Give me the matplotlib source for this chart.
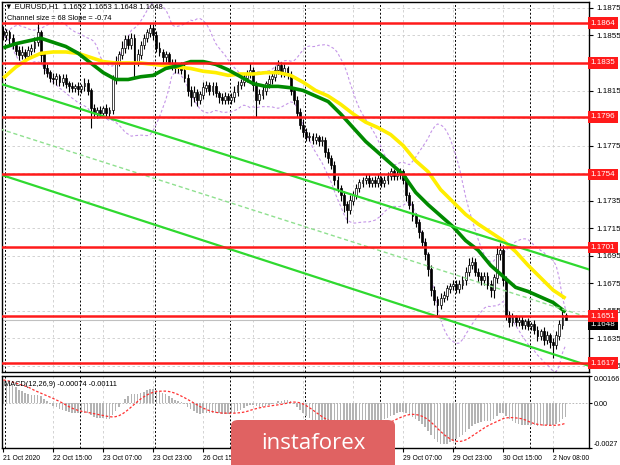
import numpy as np
import pandas as pd
import matplotlib
matplotlib.use("Agg")
import matplotlib.pyplot as plt
from matplotlib.patches import FancyBboxPatch
import matplotlib.transforms as mtransforms

plt.rcParams["font.family"] = ["Liberation Sans", "DejaVu Sans"]

# EURUSD H1 closes, one per bar
closes = [
    1.1855, 1.1857, 1.1853, 1.1848, 1.1844, 1.1841, 1.1843, 1.1840, 1.1844, 1.1846,
    1.1850, 1.1857, 1.1841, 1.1831, 1.1828, 1.1824, 1.1823, 1.1825, 1.1821, 1.1824,
    1.1820, 1.1818, 1.1817, 1.1818, 1.1816, 1.1818, 1.1820, 1.1815, 1.1802, 1.1799,
    1.1801, 1.1799, 1.1802, 1.1799, 1.1801, 1.1823, 1.1836, 1.1841, 1.1846, 1.1852,
    1.1848, 1.1853, 1.1836, 1.1841, 1.1848, 1.1853, 1.1857, 1.1860, 1.1855, 1.1846,
    1.1843, 1.1839, 1.1841, 1.1834, 1.1835, 1.1831, 1.1833, 1.1830, 1.1824, 1.1815,
    1.1810, 1.1814, 1.1808, 1.1812, 1.1817, 1.1819, 1.1815, 1.1818, 1.1813, 1.1810,
    1.1808, 1.1811, 1.1808, 1.1810, 1.1814, 1.1819, 1.1821, 1.1824, 1.1827, 1.1830,
    1.1819, 1.1808, 1.1812, 1.1815, 1.1820, 1.1823, 1.1825, 1.1830, 1.1833, 1.1828,
    1.1831, 1.1826, 1.1815, 1.1808, 1.1799, 1.1790, 1.1785, 1.1781, 1.1782, 1.1779,
    1.1781, 1.1778, 1.1779, 1.1770, 1.1766, 1.1761, 1.1750, 1.1744, 1.1739, 1.1732,
    1.1728, 1.1735, 1.1739, 1.1744, 1.1748, 1.1750, 1.1751, 1.1748, 1.1750, 1.1748,
    1.1751, 1.1748, 1.1750, 1.1753, 1.1756, 1.1753, 1.1754, 1.1756, 1.1750, 1.1739,
    1.1732, 1.1724, 1.1719, 1.1712, 1.1705, 1.1696, 1.1685, 1.1670, 1.1663, 1.1659,
    1.1664, 1.1666, 1.1671, 1.1673, 1.1674, 1.1671, 1.1674, 1.1677, 1.1683, 1.1688,
    1.1690, 1.1683, 1.1680, 1.1677, 1.1680, 1.1674, 1.1670, 1.1679, 1.1696, 1.1699,
    1.1677, 1.1652, 1.1647, 1.1650, 1.1647, 1.1648, 1.1645, 1.1647, 1.1644, 1.1645,
    1.1641, 1.1637, 1.1640, 1.1634, 1.1637, 1.1632, 1.1630, 1.1637, 1.1645, 1.1652,
    1.1648,
]
first_open = 1.1858

# wick lengths in pips above / below the candle body
upper_wick = [
    4, 3, 2, 3, 2, 3, 4, 2, 3, 3, 4, 8, 2, 2, 3, 2, 4, 3, 2, 3,
    3, 2, 3, 2, 3, 2, 4, 3, 2, 3, 2, 3, 2, 3, 2, 3, 4, 3, 5, 3,
    3, 4, 3, 4, 3, 3, 3, 3, 3, 3, 4, 2, 3, 2, 3, 3, 2, 3, 4, 3,
    3, 4, 2, 3, 4, 3, 2, 3, 3, 2, 3, 3, 2, 3, 4, 3, 2, 3, 3, 5,
    2, 3, 4, 3, 2, 3, 4, 3, 4, 3, 3, 2, 3, 2, 3, 3, 4, 3, 3, 2,
    3, 2, 3, 2, 3, 2, 3, 3, 2, 3, 3, 4, 3, 3, 3, 2, 3, 3, 2, 3,
    3, 2, 3, 3, 3, 2, 3, 3, 2, 3, 2, 3, 2, 3, 2, 3, 2, 3, 3, 3,
    4, 3, 3, 2, 3, 3, 3, 3, 4, 5, 4, 3, 3, 3, 3, 3, 3, 3, 6, 5,
    4, 3, 3, 3, 2, 3, 3, 2, 3, 2, 3, 3, 2, 3, 3, 2, 3, 3, 3, 3,
    1,
]
lower_wick = [
    3, 3, 4, 3, 3, 4, 3, 3, 2, 3, 3, 3, 5, 4, 3, 3, 3, 4, 3, 3,
    3, 4, 3, 3, 4, 3, 3, 3, 14, 4, 4, 3, 3, 4, 3, 3, 3, 3, 3, 4,
    3, 3, 11, 3, 3, 3, 3, 3, 3, 3, 3, 3, 3, 3, 4, 3, 3, 3, 3, 4,
    6, 3, 4, 3, 3, 3, 3, 3, 3, 4, 3, 3, 3, 3, 3, 3, 3, 3, 3, 3,
    4, 12, 3, 3, 3, 3, 3, 3, 3, 3, 3, 3, 3, 3, 3, 3, 4, 3, 3, 3,
    3, 3, 3, 3, 4, 3, 4, 3, 4, 5, 9, 3, 3, 3, 3, 3, 3, 3, 3, 3,
    3, 3, 3, 3, 3, 3, 3, 3, 3, 4, 3, 4, 3, 4, 3, 4, 5, 4, 4, 8,
    3, 3, 3, 3, 3, 3, 3, 3, 3, 3, 3, 3, 4, 3, 3, 3, 5, 6, 4, 4,
    4, 4, 4, 3, 3, 3, 3, 3, 3, 3, 3, 4, 3, 4, 3, 4, 9, 3, 3, 3,
    0,
]

# moving averages read every 4 bars
ma_bars = list(range(0, 181, 4))
green_ma = [
    1.1846, 1.1849, 1.1851, 1.1853, 1.1850, 1.1847, 1.1842, 1.1835, 1.1828, 1.1823,
    1.1823, 1.1825, 1.1826, 1.1831, 1.1833, 1.1836, 1.1836, 1.1834, 1.1830, 1.1825,
    1.1820, 1.1818, 1.1818, 1.1817, 1.1815, 1.1811, 1.1807, 1.1798, 1.1788, 1.1778,
    1.1770, 1.1762, 1.1754, 1.1741, 1.1732, 1.1724, 1.1716, 1.1706, 1.1699, 1.1688,
    1.1680, 1.1672, 1.1669, 1.1665, 1.1661, 1.1654,
]
yellow_ma = [
    1.1824, 1.1832, 1.1838, 1.1842, 1.1843, 1.1843, 1.1842, 1.1839, 1.1836, 1.1835,
    1.1835, 1.1835, 1.1834, 1.1833, 1.1832, 1.1831, 1.1829, 1.1828, 1.1826, 1.1827,
    1.1827, 1.1828, 1.1828, 1.1826, 1.1821, 1.1815, 1.1811, 1.1805, 1.1798, 1.1792,
    1.1788, 1.1783, 1.1775, 1.1764, 1.1756, 1.1743, 1.1734, 1.1725, 1.1718, 1.1712,
    1.1706, 1.1698, 1.1688, 1.1679, 1.1670, 1.1664,
]

levels = [1.1864, 1.1835, 1.1796, 1.1754, 1.1701, 1.1651, 1.1617]
last_price = 1.1648

channel_x = [-1.0, 187.5]
channel_top = [1.1820, 1.1685]
channel_bottom = [1.1754, 1.1615]

price_ticks = [1.1875, 1.1855, 1.1835, 1.1815, 1.1795, 1.1775, 1.1755, 1.1735,
               1.1715, 1.1695, 1.1675, 1.1655, 1.1635, 1.1615]
# ticks whose label sits under a level box
covered_ticks = [1.1835, 1.1795, 1.1755]
date_labels = ["21 Oct 2020", "22 Oct 15:00", "23 Oct 07:00", "23 Oct 23:00",
               "26 Oct 15:00", "27 Oct 07:00", "27 Oct 23:00", "28 Oct 15:00",
               "29 Oct 07:00", "29 Oct 23:00", "30 Oct 15:00", "2 Nov 08:00"]
label_bars = [0, 16, 32, 48, 64, 80, 96, 112, 128, 144, 160, 176]
day_bars = [0.5, 24.5, 48.5, 72.5, 96.5, 120.5, 144.5, 168.5]

# MACD seeds (EMA state at the left edge of the chart)
ema_fast_seed, ema_slow_seed = 1.1851, 1.1836

assert len(closes) == len(upper_wick) == len(lower_wick) == 181
assert len(ma_bars) == len(green_ma) == len(yellow_ma)

c = np.array(closes)
o = np.array([first_open] + closes[:-1])
hi = np.maximum(o, c) + np.array(upper_wick) * 0.0001
lo = np.minimum(o, c) - np.array(lower_wick) * 0.0001
bars = np.arange(len(c))

s = pd.Series(c)
bb_mid = s.rolling(20, min_periods=1).mean()
bb_sd = s.rolling(20, min_periods=2).std().fillna(0)

fast, slow = ema_fast_seed, ema_slow_seed
macd = []
for price in c:
    fast += 2 / 13 * (price - fast)
    slow += 2 / 27 * (price - slow)
    macd.append(fast - slow)
macd = np.array(macd)
signal = pd.Series(macd).rolling(9, min_periods=1).mean()

W, H = 620, 465
fig = plt.figure(figsize=(W / 100, H / 100), dpi=100)
ax = fig.add_axes([2 / W, 1 - 372 / H, 587 / W, 370 / H])
ax2 = fig.add_axes([2 / W, 1 - 448 / H, 587 / W, 72 / H])

xlim = (-0.4, 187.5)
for a in (ax, ax2):
    a.set_xlim(*xlim)
    for sp in a.spines.values():
        sp.set_color("black")
        sp.set_linewidth(1)
    for b in day_bars:
        a.axvline(b, color="black", lw=0.7, ls=(0, (2, 2)), zorder=1)
    for b in label_bars[1:]:
        a.axvline(b, color="#cccccc", lw=0.6, ls=(0, (3, 3)), zorder=0.5)

ax.set_ylim(1.16105, 1.18793)
for t in price_ticks:
    ax.axhline(t, color="#cccccc", lw=0.6, ls=(0, (3, 3)), zorder=0.5)

# Bollinger-style envelope
ax.plot(bars, bb_mid + 2 * bb_sd, color="#c596e8", lw=0.8, ls=(0, (2.5, 2)), zorder=2)
ax.plot(bars, bb_mid - 2 * bb_sd, color="#c596e8", lw=0.8, ls=(0, (2.5, 2)), zorder=2)

# candles
ax.vlines(bars, lo, hi, color="black", lw=0.8, zorder=3)
up = c >= o
ax.bar(bars[up], np.abs(c - o)[up] + 0.00002, bottom=np.minimum(o, c)[up], width=0.6,
       color="white", edgecolor="black", lw=0.5, zorder=3.1)
ax.bar(bars[~up], np.abs(c - o)[~up] + 0.00002, bottom=np.minimum(o, c)[~up], width=0.6,
       color="black", edgecolor="black", lw=0.5, zorder=3.1)

ax.plot(ma_bars, yellow_ma, color="#ffee00", lw=2.6, zorder=4, solid_capstyle="butt")
ax.plot(ma_bars, green_ma, color="#008a00", lw=2.6, zorder=4.1, solid_capstyle="butt")

# regression channel
ax.plot(channel_x, channel_top, color="#2fd92f", lw=1.6, zorder=5)
ax.plot(channel_x, channel_bottom, color="#2fd92f", lw=1.6, zorder=5)
ax.plot(channel_x, [(a + b) / 2 for a, b in zip(channel_top, channel_bottom)],
        color="#8fe08f", lw=1.0, ls=(0, (3, 2)), zorder=5)

ax.axhline(last_price, color="#c0c0c0", lw=0.8, zorder=2.5)
for lv in levels:
    ax.axhline(lv, color="#ff1a1a", lw=1.8, zorder=6)

ax.yaxis.tick_right()
ax.set_yticks(price_ticks)
ax.set_yticklabels(["" if t in covered_ticks else f"{t:.4f}" for t in price_ticks])
ax.tick_params(axis="y", labelsize=5.8, length=3, pad=2, colors="black")
ax.set_xticks([])

trans = mtransforms.blended_transform_factory(ax.transAxes, ax.transData)
ax.text(1.003, last_price - 0.00028, f"{last_price:.4f}", transform=trans, ha="left",
        va="center", color="white", fontsize=5.8, clip_on=False, zorder=9,
        bbox=dict(boxstyle="square,pad=0.3", fc="black", ec="none"))
for lv in levels:
    ax.text(1.003, lv, f"{lv:.4f}", transform=trans, ha="left", va="center",
            color="white", fontsize=5.8, clip_on=False, zorder=10,
            bbox=dict(boxstyle="square,pad=0.3", fc="#ff1a1a", ec="none"))

# MACD panel
ax2.set_ylim(-0.00271, 0.00166)
ax2.bar(bars, macd, width=0.5, color="#b4b4b4", zorder=2)
ax2.plot(bars, signal, color="#ff3030", lw=0.9, ls=(0, (2, 1.5)), zorder=3)
ax2.axhline(0, color="#b0b0b0", lw=0.6, ls=(0, (2, 2)), zorder=1)
ax2.yaxis.tick_right()
ax2.set_yticks([0.00166, 0.0, -0.0027])
ax2.set_yticklabels(["0.00166", "0.00", "-0.0027"])
ax2.tick_params(axis="y", labelsize=5.2, length=2, pad=1.5)
ylabs = ax2.get_yticklabels()
ylabs[0].set_va("top")
ylabs[2].set_va("bottom")
ax2.set_xticks(label_bars)
ax2.set_xticklabels(date_labels, ha="left")
ax2.tick_params(axis="x", labelsize=4.9, length=3, pad=2)
ax2.text(0.003, 0.93, "MACD(12,26,9) -0.00074 -0.00111", transform=ax2.transAxes,
         fontsize=5.3, va="top", ha="left")

fig.text(5 / W, 1 - 7 / H, "\u25bc EURUSD,H1  1.1652 1.1653 1.1648 1.1648", fontsize=5.5,
         va="center", ha="left")
fig.text(7 / W, 1 - 19 / H, "Channel size = 68 Slope = -0.74", fontsize=5.3,
         va="center", ha="left")

# watermark
wm = FancyBboxPatch((231 / W, -0.02), 164 / W, 45 / H + 0.02, transform=fig.transFigure,
                    boxstyle="round,pad=0,rounding_size=0.012", fc="#e06262", ec="none",
                    zorder=20)
fig.patches.append(wm)
fig.text(313 / W, 1 - 443 / H, "instaforex", fontsize=16, color="white", ha="center",
         va="center", family="Open Sans", zorder=21)

fig.savefig("out.png", dpi=100)
